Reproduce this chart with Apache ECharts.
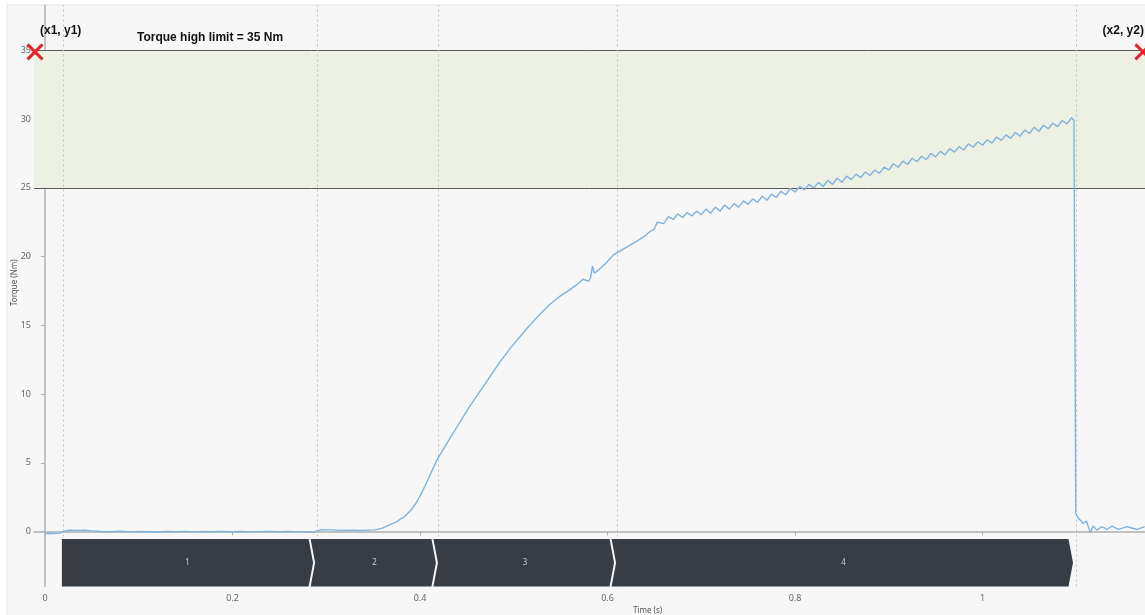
<!DOCTYPE html>
<html>
<head>
<meta charset="utf-8">
<script src="https://cdn.jsdelivr.net/npm/echarts@6/dist/echarts.min.js"></script>
<style>
  html, body { margin: 0; padding: 0; background: #ffffff; }
  #chart { width: 1145px; height: 615px; }
</style>
</head>
<body>
<div id="chart"></div>
<script>
// Axis ticks
const timeTicks = [0, 0.2, 0.4, 0.6, 0.8, 1];
const torqueTicks = [0, 5, 10, 15, 20, 25, 30, 35];

// Torque window (Nm)
const torqueHighLimit = 35;
const torqueLowLimit = 25;

// Tightening steps: boundaries in seconds and their names
const stepBoundaries = [0.018, 0.286, 0.417, 0.607, 1.0965];
const stepNames = ['1', '2', '3', '4'];

// Window corner markers [time, torque, label]
const windowCorners = [[-0.0117, 35, '(x1, y1)'], [1.170, 35, '(x2, y2)']];

// Measured torque trace [time (s), torque (Nm)]
const torqueTrace = [
  [0, -0.15], [0.008, -0.15], [0.016, -0.12], [0.02, 0.02], [0.026, 0.1], [0.034, 0.08],
  [0.042, 0.1], [0.05, 0.05], [0.06, 0.0], [0.07, -0.02], [0.08, 0.02], [0.09, -0.03],
  [0.1, 0.0], [0.11, -0.02], [0.12, -0.04], [0.13, 0.0], [0.14, -0.02], [0.15, 0.01],
  [0.16, -0.03], [0.17, 0.0], [0.18, -0.02], [0.19, 0.01], [0.2, -0.02], [0.21, 0.0],
  [0.22, -0.03], [0.23, -0.01], [0.24, 0.01], [0.25, -0.02], [0.26, 0.0], [0.27, -0.03],
  [0.28, -0.02], [0.286, -0.06], [0.29, 0.05], [0.295, 0.13], [0.305, 0.12], [0.315, 0.08],
  [0.325, 0.1], [0.335, 0.07], [0.345, 0.1], [0.352, 0.12], [0.36, 0.25], [0.368, 0.5],
  [0.375, 0.7], [0.379, 0.9], [0.383, 1.05], [0.386, 1.25], [0.391, 1.6], [0.397, 2.2],
  [0.402, 2.85], [0.407, 3.55], [0.412, 4.3], [0.418, 5.2], [0.425, 6.0], [0.432, 6.8],
  [0.443, 8.0], [0.453, 9.1], [0.464, 10.2], [0.475, 11.3], [0.485, 12.3], [0.496, 13.3],
  [0.507, 14.2], [0.517, 15.0], [0.528, 15.8], [0.538, 16.5], [0.549, 17.1], [0.56, 17.6],
  [0.568, 18.0], [0.574, 18.35], [0.58, 18.2], [0.582, 18.5], [0.584, 19.3], [0.586, 18.8],
  [0.59, 19.0], [0.598, 19.5], [0.606, 20.1], [0.618, 20.6], [0.631, 21.1], [0.64, 21.5],
  [0.645, 21.8], [0.65, 22.0], [0.653, 22.5],
  [0.655, 22.6], [0.66, 22.4], [0.665, 22.9], [0.67, 22.7], [0.675, 23.1], [0.68, 22.85],
  [0.685, 23.2], [0.69, 22.95], [0.695, 23.3], [0.7, 23.05], [0.705, 23.45], [0.71, 23.15],
  [0.715, 23.6], [0.72, 23.3], [0.725, 23.75], [0.73, 23.45], [0.735, 23.85], [0.74, 23.6],
  [0.745, 24.05], [0.75, 23.8], [0.755, 24.2], [0.76, 23.95], [0.765, 24.4], [0.77, 24.1],
  [0.775, 24.55], [0.78, 24.3], [0.785, 24.75], [0.79, 24.5], [0.795, 24.95], [0.8, 24.7],
  [0.805, 25.1], [0.81, 24.85], [0.815, 25.25], [0.82, 25.0], [0.825, 25.4], [0.83, 25.1],
  [0.835, 25.55], [0.84, 25.25], [0.845, 25.7], [0.85, 25.4], [0.855, 25.85], [0.86, 25.6],
  [0.865, 26.0], [0.87, 25.75], [0.875, 26.15], [0.88, 25.9], [0.885, 26.3], [0.89, 26.05],
  [0.895, 26.5], [0.9, 26.3], [0.905, 26.75], [0.91, 26.5], [0.915, 26.95], [0.92, 26.7],
  [0.925, 27.15], [0.93, 26.9], [0.935, 27.3], [0.94, 27.05], [0.945, 27.5], [0.95, 27.25],
  [0.955, 27.65], [0.96, 27.4], [0.965, 27.85], [0.97, 27.6], [0.975, 28.0], [0.98, 27.75],
  [0.985, 28.2], [0.99, 27.95], [0.995, 28.35], [1.0, 28.1], [1.005, 28.5], [1.01, 28.25],
  [1.015, 28.7], [1.02, 28.45], [1.025, 28.85], [1.03, 28.6], [1.035, 29.05], [1.04, 28.75],
  [1.045, 29.2], [1.05, 28.95], [1.055, 29.4], [1.06, 29.1], [1.065, 29.55], [1.07, 29.3],
  [1.075, 29.7], [1.08, 29.45], [1.085, 29.9], [1.09, 29.65], [1.095, 30.1], [1.0975, 29.9],
  [1.0995, 1.3], [1.102, 1.0], [1.104, 1.0], [1.107, 0.6], [1.111, 0.75], [1.115, -0.1],
  [1.118, 0.4], [1.122, 0.1], [1.127, 0.35], [1.133, 0.15], [1.138, 0.4], [1.145, 0.15],
  [1.154, 0.35], [1.165, 0.15], [1.173, 0.35]
];

const stepData = stepNames.map((name, i) => [stepBoundaries[i], stepBoundaries[i + 1], i]);

const chart = echarts.init(document.getElementById('chart'), null, { renderer: 'canvas' });

const tickLabelStyle = { color: '#666', fontSize: 9, fontFamily: '"Noto Sans", sans-serif' };

chart.setOption({
  animation: false,
  backgroundColor: 'transparent',
  graphic: [
    { type: 'rect', z: -10, shape: { x: 7, y: 5, width: 1140, height: 612 },
      style: { fill: '#f7f7f7', stroke: '#e6e6e6', lineWidth: 1 } },
    { type: 'text', z: 20, left: 137, top: 32,
      style: { text: 'Torque high limit = ' + torqueHighLimit + ' Nm', fill: '#111',
               font: 'bold 12px "Liberation Sans", Arial, sans-serif' } }
  ],
  grid: { left: 34, right: 0, top: 5, bottom: 28.5, containLabel: false, outerBoundsMode: 'none' },
  xAxis: {
    type: 'value', min: -0.0117, max: 1.1733,
    name: 'Time (s)', nameLocation: 'middle', nameGap: 20, nameMoveOverlap: false,
    nameTextStyle: { color: '#555', fontSize: 8, fontFamily: '"Noto Sans", sans-serif', padding: [0, 0, 0, 116] },
    axisLine: { show: true, lineStyle: { color: '#b0b0b0', width: 1.5 } },
    axisTick: { show: true, length: 4, lineStyle: { color: '#b0b0b0' }, customValues: timeTicks },
    axisLabel: Object.assign({ margin: 7, customValues: timeTicks,
      formatter: v => String(Math.round(v * 10) / 10) }, tickLabelStyle),
    splitLine: { show: false }
  },
  yAxis: {
    type: 'value', min: -4, max: 38.3,
    name: 'Torque (Nm)', nameLocation: 'middle', nameGap: 15, nameMoveOverlap: false,
    nameTextStyle: { color: '#555', fontSize: 8, fontFamily: '"Noto Sans", sans-serif', padding: [0, 0, 0, 26] },
    axisLine: { show: true, lineStyle: { color: '#b0b0b0', width: 1.5 } },
    axisTick: { show: true, length: 4, lineStyle: { color: '#b0b0b0' }, customValues: torqueTicks },
    axisLabel: Object.assign({ margin: 3, customValues: torqueTicks }, tickLabelStyle),
    splitLine: { show: false }
  },
  series: [
    {
      name: 'Torque', type: 'line', data: torqueTrace, showSymbol: false, z: 3,
      lineStyle: { color: '#80b3de', width: 1.4 },
      markArea: {
        silent: true, z: 1,
        itemStyle: { color: '#edf1e3' },
        data: [[{ yAxis: torqueLowLimit }, { yAxis: torqueHighLimit }]]
      },
      markLine: {
        silent: true, symbol: 'none', z: 2,
        label: { show: false },
        data: [
          { yAxis: torqueHighLimit, lineStyle: { color: '#5c5c5c', width: 1, type: 'solid' } },
          { yAxis: torqueLowLimit, lineStyle: { color: '#5c5c5c', width: 1, type: 'solid' } }
        ].concat(stepBoundaries.map(b => ({
          xAxis: b, lineStyle: { color: '#c2c2c2', width: 1, type: [2, 3] }
        })))
      }
    },
    {
      name: 'Steps', type: 'custom', data: stepData, z: 5,
      renderItem(params, api) {
        const a = api.coord([api.value(0), -0.55]);
        const b = api.coord([api.value(1), -4]);
        const top = a[1], bottom = b[1], mid = (top + bottom) / 2;
        const tip = 4.5;
        const idx = api.value(2);
        const right = b[0];
        const left = idx === 0 ? a[0] : a[0] - 2.5;
        const pts = idx === 0
          ? [[left, top], [right - tip, top], [right, mid], [right - tip, bottom], [left, bottom]]
          : [[left, top], [right - tip, top], [right, mid], [right - tip, bottom], [left, bottom], [left + tip, mid]];
        return {
          type: 'group',
          children: [
            { type: 'polygon', shape: { points: pts }, style: { fill: '#363d45' } },
            { type: 'text', style: { text: stepNames[idx], x: (a[0] + right) / 2, y: mid,
                fill: '#c9cdd2', font: '8px "Noto Sans", sans-serif', align: 'center', verticalAlign: 'middle' } }
          ]
        };
      }
    },
    {
      name: 'Window corners', type: 'custom', data: windowCorners.map(c => [c[0], c[1]]), z: 10, clip: false,
      renderItem(params, api) {
        const p = api.coord([api.value(0), api.value(1)]);
        const r = 7.5, cx = p[0] + 1, cy = p[1] + 1.5;
        const corner = windowCorners[params.dataIndex];
        const first = params.dataIndex === 0;
        return {
          type: 'group',
          children: [
            { type: 'line', shape: { x1: cx - r, y1: cy - r, x2: cx + r, y2: cy + r },
              style: { stroke: '#e4232b', lineWidth: 3 } },
            { type: 'line', shape: { x1: cx - r, y1: cy + r, x2: cx + r, y2: cy - r },
              style: { stroke: '#e4232b', lineWidth: 3 } },
            { type: 'text', style: { text: corner[2], x: first ? cx + 5 : cx + 1, y: cy - 15,
                align: first ? 'left' : 'right', verticalAlign: 'bottom', fill: '#111',
                font: 'bold 12px "Liberation Sans", Arial, sans-serif' } }
          ]
        };
      }
    }
  ]
});
</script>
</body>
</html>
